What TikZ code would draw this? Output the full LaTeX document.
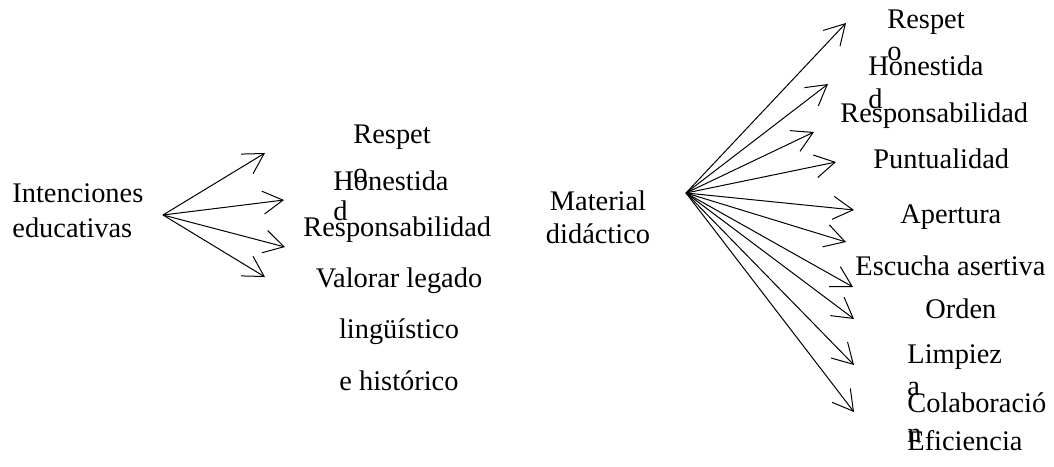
\documentclass[tikz,border=0pt]{standalone}
\usepackage{fontspec}
\setmainfont{Liberation Serif}
\usetikzlibrary{arrows.meta}

\tikzset{
  texto/.style={anchor=base west, inner sep=0pt, align=left,
    font=\fontsize{14.2}{#1}\selectfont},
  texto/.default=17.5pt,
  flecha/.style={-{Straight Barb[length=10pt,width=11.5pt]}, line width=0.5pt},
}

\begin{document}
\begin{tikzpicture}[x=0.5pt,y=-0.5pt]
    \useasboundingbox (0,0) rectangle (1054,466);
    % primer grupo (nodos de varias lineas: base = ultima linea)
    \node[texto] (intenciones) at (12,237) {Intenciones\\educativas};
    \coordinate (ie) at (163,215);
    \coordinate (ie1) at (265,153);
    \coordinate (ie2) at (284,200);
    \coordinate (ie3) at (285,247);
    \coordinate (ie4) at (265,277);
    \foreach \n in {1,...,4}
      \draw[flecha] (ie) -- (ie\n);
    \node[texto=19.5pt] (respetA) at (353,182) {Respet\\o};
    \node[texto=15pt] (honestidadA) at (333,220) {Honestida\\d};
    \node[texto] (responsabilidadA) at (303,236) {Responsabilidad};
    \node[texto=25.75pt, anchor=base, align=center] (legado) at (399,390)
      {Valorar legado\\lingüístico\\e histórico};
    % segundo grupo
    \node[texto=16.5pt, anchor=base, align=center] (material) at (598,243) {Material\\didáctico};
    \coordinate (md) at (686,193);
    \coordinate (md1) at (846,23);
    \coordinate (md2) at (828,84);
    \coordinate (md3) at (814,132);
    \coordinate (md4) at (836,162);
    \coordinate (md5) at (854,210);
    \coordinate (md6) at (846,242);
    \coordinate (md7) at (853,287);
    \coordinate (md8) at (854,319);
    \coordinate (md9) at (854,365);
    \coordinate (md10) at (854,412);
    \foreach \n in {1,...,10}
      \draw[flecha] (md) -- (md\n);
    \node[texto=16pt] (respetB) at (887,60) {Respet\\o};
    \node[texto=16.5pt] (honestidadB) at (868,108) {Honestida\\d};
    \node[texto] (responsabilidadB) at (840,122) {Responsabilidad};
    \node[texto] (puntualidad) at (873,168) {Puntualidad};
    \node[texto] (apertura) at (900,223) {Apertura};
    \node[texto] (escucha) at (855,275) {Escucha asertiva};
    \node[texto] (orden) at (925,318) {Orden};
    \node[texto=16pt] (limpieza) at (907,395) {Limpiez\\a};
    \node[texto=15pt] (colaboracion) at (907,442) {Colaboració\\n};
    \node[texto] (eficiencia) at (907,450) {Eficiencia};
\end{tikzpicture}
\end{document}
